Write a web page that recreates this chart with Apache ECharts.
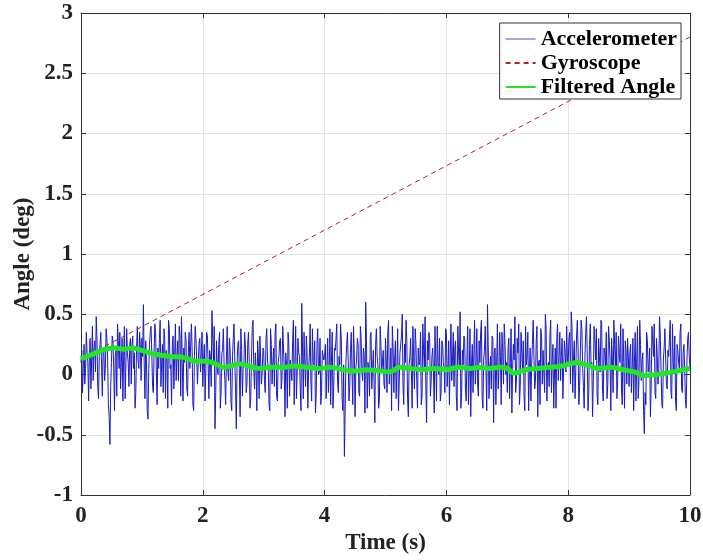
<!DOCTYPE html>
<html><head><meta charset="utf-8">
<script src="https://cdn.jsdelivr.net/npm/echarts@6/dist/echarts.min.js"></script>
<style>html,body{margin:0;padding:0;background:#fff}#c{width:703px;height:560px}</style>
</head><body><div id="c"></div>
<script>
// ---- data ----
const seriesNames = ['Accelerometer', 'Gyroscope', 'Filtered Angle'];
const xTicks = [0, 2, 4, 6, 8, 10];
const yTicks = [-1, -0.5, 0, 0.5, 1, 1.5, 2, 2.5, 3];
const accelStep = 0.0125; // sample period (s)
// samples at t = 0, 0.025, 0.05, ... (even samples)
const accelEven = [
 0.10,-0.15,0.25,0.05,0.18,-0.22,0.30,0.12,-0.05,0.28,0.48,-0.10,0.15,0.35,-0.18,0.22,0.05,0.30,-0.25,-0.58,0.10,0.28,-0.30,0.20,0.42,0.05,-0.12,0.30,0.15,-0.20,0.38,0.10,0.25,-0.08,0.32,0.18,-0.15,0.40,0.05,0.22,
 0.30,0.58,-0.20,0.12,-0.37,0.25,0.40,-0.10,0.18,0.35,-0.25,0.05,0.45,0.10,-0.15,0.30,0.20,-0.28,0.38,0.08,0.25,-0.12,0.42,0.15,-0.05,0.32,0.48,-0.22,0.10,0.28,-0.18,0.35,0.05,0.20,-0.30,0.40,0.12,-0.08,0.30,0.18,
 -0.10,0.25,0.05,0.32,-0.20,0.15,0.53,0.10,-0.45,0.28,0.00,0.35,-0.15,0.20,0.08,-0.25,0.40,-0.05,0.18,-0.30,0.30,0.12,-0.45,0.25,0.05,0.38,-0.18,0.10,0.22,-0.08,0.35,-0.28,0.15,0.45,-0.12,0.05,0.28,-0.20,0.32,0.02,
 0.20,-0.15,0.38,0.05,-0.30,0.25,0.10,-0.10,0.42,-0.22,0.15,0.30,-0.05,0.22,-0.35,0.08,0.35,-0.18,0.12,0.28,-0.25,0.40,0.02,0.18,-0.12,0.59,-0.20,0.10,0.32,-0.28,0.15,-0.05,0.38,0.08,-0.32,0.25,0.00,0.30,-0.15,0.20,
 0.15,-0.20,0.30,0.05,-0.25,0.35,-0.10,0.20,0.42,-0.15,0.08,0.28,-0.30,-0.68,0.10,0.35,-0.22,0.18,0.02,0.40,-0.35,0.12,0.25,-0.18,0.30,-0.05,0.15,0.60,-0.28,0.05,0.32,-0.12,0.20,-0.40,0.38,0.08,-0.20,0.25,0.10,-0.08,
 0.30,-0.15,0.45,0.05,-0.30,0.22,0.12,-0.20,0.38,-0.08,0.18,0.50,-0.25,0.10,0.28,-0.35,0.15,0.02,0.40,-0.12,0.25,-0.28,0.08,0.35,-0.18,0.20,0.48,-0.40,0.12,0.30,-0.05,0.22,-0.32,0.15,0.40,0.00,-0.22,0.28,0.10,-0.15,
 0.35,0.05,-0.25,0.42,0.12,-0.10,0.28,-0.30,0.18,0.52,-0.15,0.08,0.30,-0.22,0.40,0.02,-0.35,0.25,0.15,-0.08,0.38,-0.18,0.10,0.45,-0.28,0.20,0.05,0.58,-0.20,0.15,0.32,-0.40,0.22,0.08,-0.12,0.35,-0.25,0.18,0.42,0.00,
 -0.15,0.30,0.10,-0.32,0.25,0.48,-0.05,0.18,-0.25,0.35,0.05,-0.18,0.40,0.15,-0.30,0.22,0.08,0.45,-0.12,0.28,-0.35,0.12,0.38,-0.08,0.20,0.50,-0.22,0.10,0.32,-0.15,0.25,0.02,-0.28,0.42,0.15,-0.05,0.30,-0.20,0.18,0.40,
 0.10,0.35,0.52,-0.15,0.28,0.05,0.45,-0.25,0.20,0.38,-0.10,0.15,0.48,-0.30,0.25,0.08,-0.35,0.40,0.12,-0.18,0.30,0.02,0.42,-0.22,0.18,0.35,-0.08,0.28,-0.30,0.15,0.45,0.05,-0.20,0.32,0.10,-0.12,0.38,-0.28,0.20,0.30,
 -0.10,0.25,0.05,-0.30,0.35,0.12,-0.20,0.45,-0.05,0.18,-0.49,-0.25,0.28,0.08,-0.35,0.40,0.15,-0.15,0.30,-0.08,0.48,0.02,-0.28,0.22,0.38,-0.12,0.15,0.45,-0.20,0.10,0.32,-0.30,0.20,0.05,0.42,-0.15,0.25,-0.22,0.12,0.35,0.05
];
// samples at t = 0.0125, 0.0375, ... (odd samples)
const accelOdd = [
 0.20,0.05,-0.08,0.35,0.10,0.15,-0.12,0.40,0.22,0.02,0.30,-0.20,0.25,0.08,0.18,-0.05,0.38,0.12,-0.35,-0.10,0.32,0.05,0.15,-0.18,0.28,0.35,0.10,-0.22,0.40,0.08,0.18,-0.10,0.30,0.25,0.05,-0.28,0.22,0.12,0.35,-0.05,
 0.15,0.10,0.28,-0.30,0.05,0.35,0.18,-0.15,0.42,0.02,0.22,0.30,-0.10,0.25,0.38,-0.20,0.12,0.45,0.05,-0.25,0.32,0.15,-0.05,0.28,0.40,-0.18,0.10,0.22,0.35,-0.12,0.18,0.05,0.42,-0.25,0.15,0.30,-0.08,0.25,0.02,0.35,
 0.12,-0.22,0.35,0.08,0.20,-0.10,0.30,0.40,-0.15,0.05,0.25,-0.28,0.18,0.38,-0.05,0.12,0.02,0.30,-0.22,0.15,0.42,-0.12,0.08,0.28,-0.35,0.20,0.05,0.35,-0.15,0.25,0.10,-0.20,0.40,0.02,0.18,-0.30,0.15,0.32,-0.08,0.22,
 -0.05,0.30,0.12,-0.25,0.38,-0.08,0.22,0.35,-0.18,0.10,0.28,-0.12,0.40,0.05,0.18,-0.28,0.25,0.12,-0.05,0.45,0.08,-0.20,0.30,0.15,-0.30,0.22,0.35,-0.10,0.18,0.05,0.42,-0.22,0.10,0.28,-0.15,0.38,0.02,-0.25,0.20,0.12,
 0.25,0.05,-0.15,0.38,0.10,-0.28,0.22,0.30,-0.05,0.15,0.42,-0.20,0.08,-0.30,0.25,0.12,-0.10,0.35,-0.25,0.18,0.05,0.30,-0.15,0.40,0.02,0.22,-0.32,0.28,0.10,-0.18,0.35,0.05,-0.08,0.25,0.15,-0.28,0.40,0.02,0.20,-0.12,
 0.12,0.35,-0.08,0.22,0.40,-0.15,0.28,0.05,-0.30,0.18,0.32,-0.10,0.25,0.45,-0.20,0.08,0.30,-0.28,0.15,0.38,-0.05,0.22,0.10,-0.25,0.42,0.05,-0.12,0.28,0.35,-0.18,0.15,0.02,0.40,-0.22,0.10,0.30,-0.15,0.25,0.05,0.38,
 -0.10,0.28,0.15,-0.05,0.35,0.22,-0.18,0.40,0.05,-0.28,0.20,0.32,-0.12,0.15,-0.25,0.38,0.08,-0.15,0.45,0.10,-0.08,0.28,0.35,-0.20,0.12,0.40,-0.30,0.22,0.05,-0.12,0.30,0.18,-0.25,0.42,0.02,0.15,0.35,-0.08,0.25,0.10,
 0.22,-0.20,0.38,0.05,0.12,-0.15,0.30,0.42,-0.10,0.18,0.28,-0.30,0.08,0.35,0.02,-0.22,0.25,0.15,-0.05,0.40,0.10,-0.25,0.32,0.20,-0.15,0.38,0.05,-0.10,0.45,0.12,-0.28,0.22,0.30,-0.05,0.35,0.15,-0.20,0.28,0.02,0.12,
 0.30,-0.08,0.40,0.15,-0.20,0.32,0.22,-0.10,0.45,0.05,-0.28,0.35,0.18,-0.15,0.42,0.10,-0.05,0.28,0.38,-0.25,0.15,0.45,-0.12,0.22,0.05,-0.20,0.40,0.12,0.30,-0.15,0.25,0.35,-0.05,0.18,0.42,-0.25,0.10,0.28,-0.08,0.15,
 0.18,-0.15,0.30,0.10,-0.22,0.40,-0.05,0.25,0.12,-0.30,-0.15,0.35,0.02,0.22,-0.10,0.28,0.42,-0.20,0.15,0.05,0.32,-0.25,0.12,0.38,-0.08,0.20,0.30,-0.15,0.42,0.02,-0.22,0.25,0.10,0.35,-0.12,0.18,0.05,-0.28,0.30,0.15
];
const gyroT = [0, 10];
const gyroY = [0.13, 2.80];
const filtT = [0,0.2,0.4,0.55,0.7,0.85,1.0,1.2,1.46,1.7,1.9,2.07,2.2,2.33,2.45,2.6,2.75,2.93,3.1,3.31,3.5,3.7,3.9,4.1,4.3,4.5,4.7,4.9,5.07,5.23,5.4,5.6,5.8,6.0,6.2,6.4,6.54,6.7,6.9,7.0,7.11,7.3,7.5,7.7,7.9,8.13,8.3,8.5,8.7,8.9,9.1,9.25,9.45,9.6,9.8,10];
const filtY = [0.13,0.17,0.21,0.22,0.21,0.22,0.20,0.17,0.15,0.14,0.11,0.11,0.09,0.06,0.07,0.09,0.07,0.05,0.06,0.06,0.07,0.06,0.05,0.06,0.04,0.03,0.04,0.03,0.02,0.06,0.05,0.04,0.05,0.04,0.06,0.05,0.06,0.05,0.06,0.05,0.01,0.04,0.05,0.06,0.07,0.10,0.08,0.05,0.06,0.04,0.02,-0.01,0.00,0.01,0.03,0.05];

// ---- build ----
const accelData = [];
accelEven.forEach((v, i) => {
  accelData.push([+((2 * i) * accelStep).toFixed(4), v]);
  if (i < accelOdd.length) accelData.push([+((2 * i + 1) * accelStep).toFixed(4), accelOdd[i]]);
});
const gyroData = gyroT.map((t, i) => [t, gyroY[i]]);
const filtData = filtT.map((t, i) => [t, filtY[i]]);

const serif = '"Liberation Serif","Times New Roman",serif';
const chart = echarts.init(document.getElementById('c'), null, {renderer: 'canvas'});
const axisCommon = {
  type: 'value',
  axisLine: {show: true, onZero: false, lineStyle: {color: '#333', width: 1}},
  axisTick: {show: true, inside: true, length: 5, lineStyle: {color: '#333'}},
};
chart.setOption({
  animation: false,
  backgroundColor: '#fff',
  grid: {left: 81, right: 13, top: 13, bottom: 65, containLabel: false, outerBoundsMode: 'none'},
  legend: {
    orient: 'vertical', right: 22, top: 23,
    backgroundColor: '#fff', borderColor: '#333', borderWidth: 1,
    padding: [5, 4, 1, 5], itemGap: 2, itemWidth: 30, itemHeight: 14,
    itemStyle: {opacity: 0},
    textStyle: {fontFamily: serif, fontWeight: 'bold', fontSize: 22, color: '#000'},
    data: [
      {name: seriesNames[0], lineStyle: {color: '#8a8ac8', width: 1.5}},
      {name: seriesNames[1]},
      {name: seriesNames[2]}
    ]
  },
  xAxis: [
    Object.assign({}, axisCommon, {
      min: 0, max: 10, interval: 2, position: 'bottom',
      name: 'Time (s)', nameLocation: 'middle', nameGap: 37, nameMoveOverlap: false,
      nameTextStyle: {fontFamily: serif, fontWeight: 'bold', fontSize: 23, color: '#222'},
      axisLabel: {fontFamily: serif, fontWeight: 'bold', fontSize: 23, color: '#222', margin: 10,
        formatter: v => xTicks.includes(v) ? String(v) : ''},
      splitLine: {show: true, lineStyle: {color: '#e2e2e2', width: 1}}
    }),
    Object.assign({}, axisCommon, {
      min: 0, max: 10, interval: 2, position: 'top',
      axisLabel: {show: false}, splitLine: {show: false}
    })
  ],
  yAxis: [
    Object.assign({}, axisCommon, {
      min: -1, max: 3, interval: 0.5, position: 'left',
      name: 'Angle (deg)', nameLocation: 'middle', nameGap: 46, nameRotate: 90, nameMoveOverlap: false,
      nameTextStyle: {fontFamily: serif, fontWeight: 'bold', fontSize: 23, color: '#222'},
      axisLabel: {fontFamily: serif, fontWeight: 'bold', fontSize: 23, color: '#222', margin: 8,
        formatter: v => yTicks.includes(v) ? String(v) : ''},
      splitLine: {show: true, lineStyle: {color: '#e2e2e2', width: 1}}
    }),
    Object.assign({}, axisCommon, {
      min: -1, max: 3, interval: 0.5, position: 'right',
      axisLabel: {show: false}, splitLine: {show: false}
    })
  ],
  series: [
    {name: seriesNames[0], type: 'line', data: accelData, showSymbol: false, symbol: 'none',
      lineStyle: {color: '#1a1ac4', width: 1}, itemStyle: {color: '#1a1ac4'}, z: 2},
    {name: seriesNames[1], type: 'line', data: gyroData, showSymbol: false, symbol: 'none',
      lineStyle: {color: '#b22222', width: 1, type: [5, 4]}, itemStyle: {color: '#b22222'}, z: 3},
    {name: seriesNames[2], type: 'line', data: filtData, showSymbol: false, symbol: 'none', smooth: 0.3,
      lineStyle: {color: '#22e622', width: 5}, itemStyle: {color: '#22e622'}, z: 4}
  ]
});
</script>
</body></html>
